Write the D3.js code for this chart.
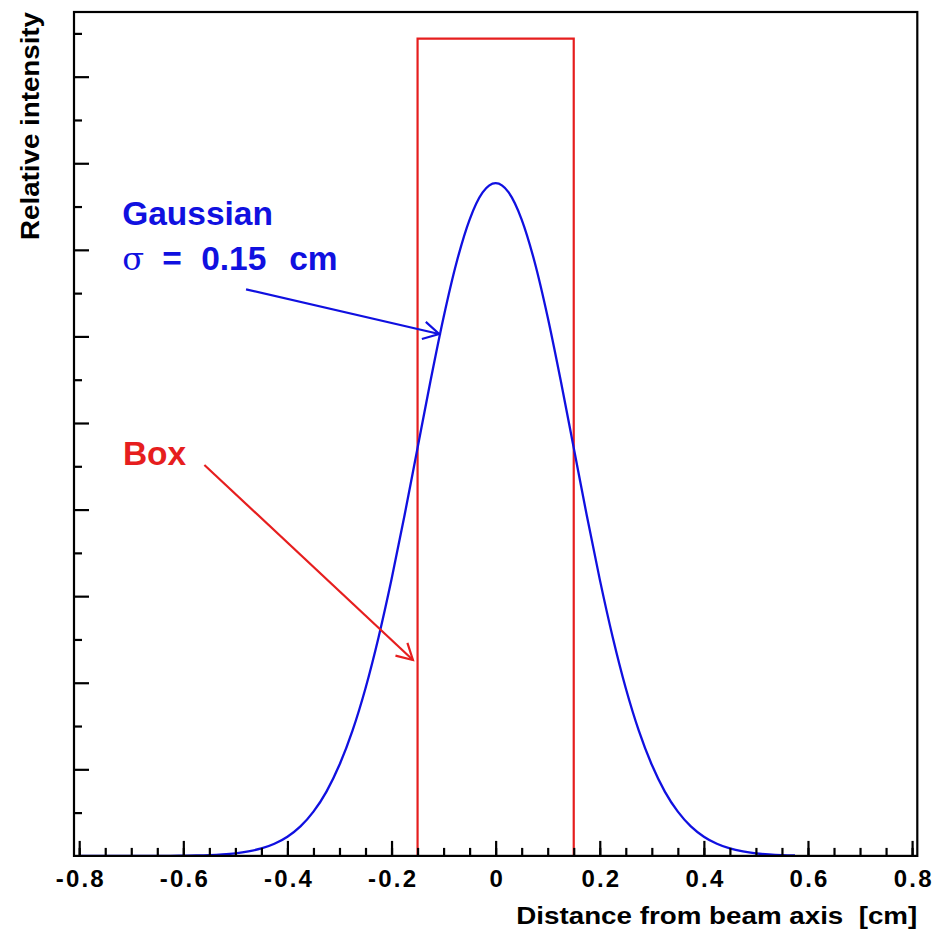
<!DOCTYPE html>
<html>
<head>
<meta charset="utf-8">
<script src="https://cdn.jsdelivr.net/npm/d3@7"></script>
<style>
  html, body { margin: 0; padding: 0; background: #fff; }
  svg { display: block; }
  text { font-family: "Liberation Sans", Arial, Helvetica, sans-serif; font-weight: bold; }
</style>
</head>
<body>
<svg id="chart" width="934" height="932"></svg>
<script>
// Beam profile: Gaussian (sigma = 0.15 cm) and a box of full width 0.30 cm
const gaussX = [-0.800, -0.775, -0.750, -0.725, -0.700, -0.675, -0.650, -0.625, -0.600, -0.575,
                -0.550, -0.525, -0.500, -0.475, -0.450, -0.425, -0.400, -0.375, -0.350, -0.325,
                -0.300, -0.275, -0.250, -0.225, -0.200, -0.175, -0.150, -0.125, -0.100, -0.075,
                -0.050, -0.025, 0.000, 0.025, 0.050, 0.075, 0.100, 0.125, 0.150, 0.175,
                0.200, 0.225, 0.250, 0.275, 0.300, 0.325, 0.350, 0.375, 0.400, 0.425,
                0.450, 0.475, 0.500, 0.525, 0.550, 0.575];
const gaussY = [0.000, 0.000, 0.000, 0.000, 0.000, 0.000, 0.001, 0.001, 0.003, 0.005,
                0.009, 0.017, 0.030, 0.052, 0.086, 0.140, 0.222, 0.341, 0.511, 0.743,
                1.052, 1.447, 1.937, 2.523, 3.194, 3.934, 4.713, 5.491, 6.222, 6.857,
                7.350, 7.663, 7.770, 7.663, 7.350, 6.857, 6.222, 5.491, 4.713, 3.934,
                3.194, 2.523, 1.937, 1.447, 1.052, 0.743, 0.511, 0.341, 0.222, 0.140,
                0.086, 0.052, 0.030, 0.017, 0.009, 0.005];

const boxX = [-0.15, -0.15, 0.15, 0.15];
const boxY = [0, 9.44, 9.44, 0];

const xMajorTicks = [-0.8, -0.6, -0.4, -0.2, 0, 0.2, 0.4, 0.6, 0.8];
const xTickLabels = ["-0.8", "-0.6", "-0.4", "-0.2", "0", "0.2", "0.4", "0.6", "0.8"];
const xMinorTicks = d3.range(-16, 17).map(i => +(i * 0.05).toFixed(2));
const yMajorTicks = [1, 2, 3, 4, 5, 6, 7, 8, 9];
const yMinorTicks = [0.5, 1.5, 2.5, 3.5, 4.5, 5.5, 6.5, 7.5, 8.5, 9.5];

const xTitle = "Distance from beam axis  [cm]";
const yTitle = "Relative intensity";

const blue = "#1010e0";
const red = "#e61e1e";

const svg = d3.select("#chart");
const plot = { left: 74, top: 12, right: 917.3, bottom: 855.9 };

const x = d3.scaleLinear().domain([-0.81, 0.81]).range([plot.left, plot.right]);
const y = d3.scaleLinear().domain([0, 9.747]).range([plot.bottom, plot.top]);

// Box profile
const boxLine = d3.line().x(d => x(d[0])).y(d => y(d[1]));
svg.append("path")
  .datum(d3.zip(boxX, boxY))
  .attr("d", boxLine)
  .attr("fill", "none")
  .attr("stroke", red)
  .attr("stroke-width", 2.2);

// Gaussian profile
const gLine = d3.line().x(d => x(d[0])).y(d => y(d[1])).curve(d3.curveMonotoneX);
svg.append("path")
  .datum(d3.zip(gaussX, gaussY))
  .attr("d", gLine)
  .attr("fill", "none")
  .attr("stroke", blue)
  .attr("stroke-width", 2.3);

// Axes: ticks drawn inward from the bottom and left edges of the frame
const axisStyle = g => {
  g.select(".domain").remove();
  g.selectAll(".tick line").attr("stroke", "#000").attr("stroke-width", 2.2);
};

svg.append("g")
  .attr("transform", `translate(0,${plot.bottom})`)
  .call(d3.axisBottom(x).tickValues(xMinorTicks).tickSize(-8).tickFormat(""))
  .call(axisStyle);

const xMajor = svg.append("g")
  .attr("transform", `translate(0,${plot.bottom})`)
  .call(d3.axisBottom(x).tickValues(xMajorTicks).tickSize(-15)
        .tickFormat((d, i) => xTickLabels[i]))
  .call(axisStyle);
xMajor.attr("font-size", null).attr("font-family", null);
xMajor.selectAll(".tick text")
  .attr("y", 31)
  .attr("dy", 0)
  .attr("dx", 1.1)
  .attr("fill", "#000")
  .style("font-size", "24px")
  .style("letter-spacing", "2.2px")
  .style("font-family", "'Liberation Sans', Arial, sans-serif")
  .style("font-weight", "bold");

svg.append("g")
  .attr("transform", `translate(${plot.left},0)`)
  .call(d3.axisRight(y).tickValues(yMinorTicks).tickSize(8).tickFormat(""))
  .call(axisStyle);
svg.append("g")
  .attr("transform", `translate(${plot.left},0)`)
  .call(d3.axisRight(y).tickValues(yMajorTicks).tickSize(15).tickFormat(""))
  .call(axisStyle);

// Frame
svg.append("rect")
  .attr("x", plot.left).attr("y", plot.top)
  .attr("width", plot.right - plot.left).attr("height", plot.bottom - plot.top)
  .attr("fill", "none").attr("stroke", "#000").attr("stroke-width", 2.2);

// Axis titles
svg.append("text")
  .attr("x", plot.right).attr("y", 924)
  .attr("text-anchor", "end")
  .attr("textLength", 401)
  .attr("lengthAdjust", "spacingAndGlyphs")
  .style("font-size", "23.5px")
  .style("white-space", "pre")
  .attr("fill", "#000")
  .text(xTitle);

svg.append("text")
  .attr("transform", `translate(39,${plot.top}) rotate(-90)`)
  .attr("text-anchor", "end")
  .attr("textLength", 228)
  .attr("lengthAdjust", "spacingAndGlyphs")
  .style("font-size", "26px")
  .attr("fill", "#000")
  .text(yTitle);

// Annotations with arrows
function arrow(x0, y0, x1, y1, color) {
  const px0 = x(x0), py0 = y(y0), px1 = x(x1), py1 = y(y1);
  const ang = Math.atan2(py1 - py0, px1 - px0);
  const len = 18, spread = Math.PI / 6.2;
  const g = svg.append("g").attr("stroke", color).attr("stroke-width", 2.2).attr("fill", "none");
  g.append("line").attr("x1", px0).attr("y1", py0).attr("x2", px1).attr("y2", py1);
  g.append("path").attr("d",
    `M${px1 - len * Math.cos(ang - spread)},${py1 - len * Math.sin(ang - spread)}` +
    `L${px1},${py1}` +
    `L${px1 - len * Math.cos(ang + spread)},${py1 - len * Math.sin(ang + spread)}`);
}

svg.append("text")
  .attr("x", x(-0.7175)).attr("y", y(7.287))
  .attr("fill", blue)
  .style("font-size", "33.5px")
  .text("Gaussian");

const sigmaLine = svg.append("text")
  .attr("x", x(-0.7175)).attr("y", y(6.77))
  .attr("fill", blue)
  .style("font-size", "33.5px");
sigmaLine.append("tspan").attr("x", x(-0.7175)).style("font-weight", "normal")
  .style("font-family", "'DejaVu Serif', 'Liberation Serif', serif").style("font-size", "32px").text("σ");
sigmaLine.append("tspan").attr("x", x(-0.7175) + 40).text("=");
sigmaLine.append("tspan").attr("x", x(-0.7175) + 79).text("0.15");
sigmaLine.append("tspan").attr("x", x(-0.7175) + 167).text("cm");

arrow(-0.4795, 6.544, -0.1085, 6.028, blue);

svg.append("text")
  .attr("x", x(-0.716)).attr("y", y(4.515))
  .attr("fill", red)
  .style("font-size", "33.5px")
  .text("Box");

arrow(-0.5595, 4.515, -0.1589, 2.263, red);
</script>
</body>
</html>
